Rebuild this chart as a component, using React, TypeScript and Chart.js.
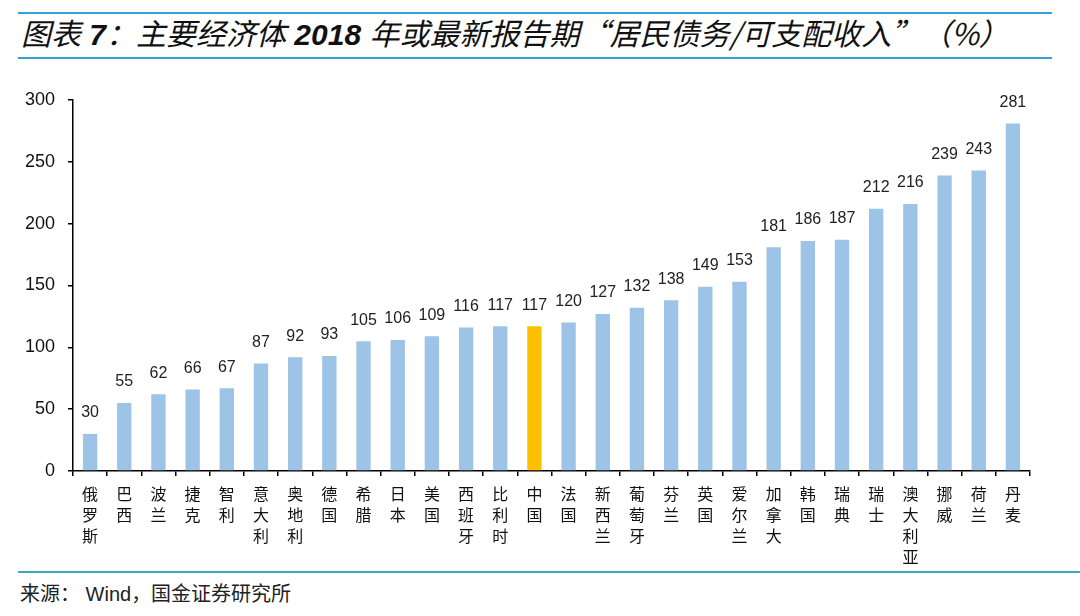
import React, { useEffect, useRef } from "react";
import { Chart, registerables } from "chart.js";

Chart.register(...registerables);

const categories: string[] = [
  "俄罗斯", "巴西", "波兰", "捷克", "智利", "意大利", "奥地利", "德国", "希腊", "日本",
  "美国", "西班牙", "比利时", "中国", "法国", "新西兰", "葡萄牙", "芬兰", "英国", "爱尔兰",
  "加拿大", "韩国", "瑞典", "瑞士", "澳大利亚", "挪威", "荷兰", "丹麦",
];
const debtToIncome: number[] = [
  30, 55, 62, 66, 67, 87, 92, 93, 105, 106, 109, 116, 117, 117, 120, 127, 132, 138, 149, 153,
  181, 186, 187, 212, 216, 239, 243, 281,
];
const highlightCategory = "中国";
const yTicks = { min: 0, max: 300, step: 50 };

const BAR_COLOR = "#9dc3e6";
const HIGHLIGHT_COLOR = "#ffc000";
const LINE_COLOR = "#31a3d6";

const valueLabels = {
  id: "valueLabels",
  afterDatasetsDraw(chart: any) {
    const ctx = chart.ctx;
    const meta = chart.getDatasetMeta(0);
    const data = chart.data.datasets[0].data as number[];
    ctx.save();
    ctx.font = '16px "Liberation Sans", Arial, sans-serif';
    ctx.fillStyle = "#222";
    ctx.textAlign = "center";
    ctx.textBaseline = "middle";
    meta.data.forEach((el: any, i: number) => {
      ctx.fillText(String(data[i]), el.x, el.y - 21);
    });
    ctx.restore();
  },
};

const latin = { fontFamily: '"Liberation Sans", Arial, sans-serif', fontWeight: 700 as const };

export default function App() {
  const ref = useRef<HTMLCanvasElement | null>(null);

  useEffect(() => {
    document.body.style.margin = "0";
    if (!ref.current) return;
    const chart = new Chart(ref.current, {
      type: "bar",
      data: {
        labels: categories.map((c) => c.split("")),
        datasets: [
          {
            data: debtToIncome,
            backgroundColor: categories.map((c) => (c === highlightCategory ? HIGHLIGHT_COLOR : BAR_COLOR)),
            barPercentage: 0.42,
            categoryPercentage: 1,
          },
        ],
      },
      options: {
        animation: false,
        responsive: false,
        maintainAspectRatio: false,
        layout: { padding: { top: 30, right: 50, bottom: 0, left: 0 } },
        plugins: { legend: { display: false }, tooltip: { enabled: false } },
        scales: {
          x: {
            offset: true,
            grid: { offset: true, drawOnChartArea: false, drawTicks: true, tickLength: 5, color: "#000", lineWidth: 1.5 },
            border: { display: true, color: "#000", width: 1.5 },
            ticks: {
              color: "#111",
              padding: 8,
              autoSkip: false,
              maxRotation: 0,
              font: { family: '"Noto Sans CJK SC", sans-serif', size: 16, lineHeight: 1.3 },
            },
            afterFit: (scale: any) => {
              scale.height = 101;
            },
          },
          y: {
            min: yTicks.min,
            max: yTicks.max,
            grid: { drawOnChartArea: false, drawTicks: true, tickLength: 5, color: "#000", lineWidth: 1.5 },
            border: { display: true, color: "#000", width: 1.5 },
            ticks: {
              stepSize: yTicks.step,
              color: "#111",
              padding: 13,
              font: { family: '"Liberation Sans", Arial, sans-serif', size: 18 },
            },
            afterFit: (scale: any) => {
              scale.width = 73;
            },
          },
        },
      },
      plugins: [valueLabels],
    });
    return () => chart.destroy();
  }, []);

  return (
    <div style={{ position: "relative", width: 1080, height: 616, background: "#fff", overflow: "hidden" }}>
      <div style={{ position: "absolute", left: 18, top: 12, width: 1034, height: 2, background: LINE_COLOR }} />
      <div
        style={{
          position: "absolute",
          left: 21,
          top: 14,
          whiteSpace: "nowrap",
          fontFamily: '"Noto Sans CJK SC", sans-serif',
          fontStyle: "italic",
          fontSize: 30,
          lineHeight: "36px",
          color: "#111",
        }}
      >
        图表<span style={latin}> 7</span>：主要经济体<span style={latin}> 2018 </span>年或最新报告期“居民债务/可支配收入”（%）
      </div>
      <div style={{ position: "absolute", left: 18, top: 57, width: 1034, height: 2, background: LINE_COLOR }} />
      <canvas ref={ref} width={1080} height={502} style={{ position: "absolute", left: 0, top: 70 }} />
      <div style={{ position: "absolute", left: 18, top: 571, width: 1062, height: 2, background: "#3aa9bd" }} />
      <div
        style={{
          position: "absolute",
          left: 20,
          top: 579,
          whiteSpace: "nowrap",
          fontFamily: '"Noto Sans CJK SC", sans-serif',
          fontSize: 20,
          lineHeight: "28px",
          color: "#222",
        }}
      >
        来源：<span style={{ fontFamily: '"Liberation Sans", Arial, sans-serif' }}> Wind</span>，国金证券研究所
      </div>
    </div>
  );
}
